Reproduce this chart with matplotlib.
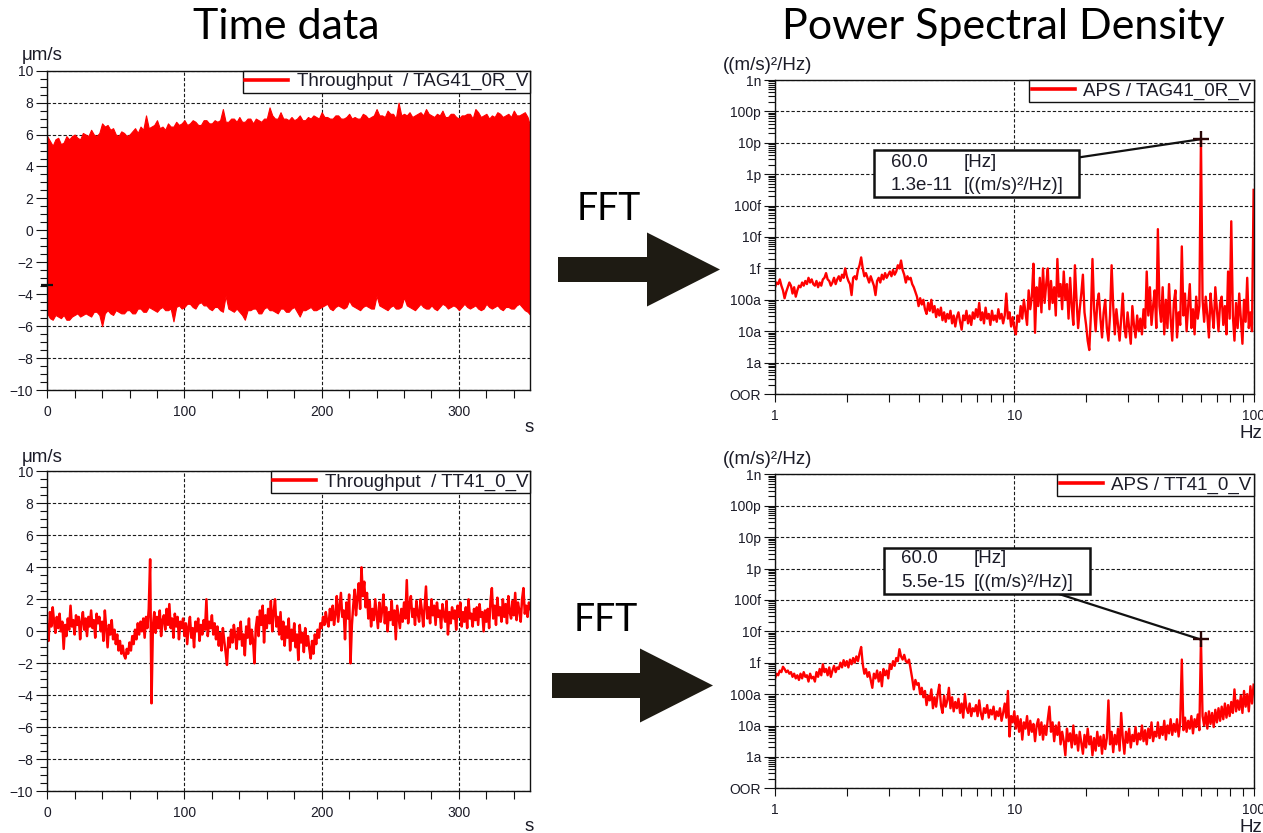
import numpy as np
import matplotlib
matplotlib.use('Agg')
import matplotlib.pyplot as plt
from matplotlib.ticker import FixedLocator, FixedFormatter, NullFormatter, MultipleLocator, LogLocator
from matplotlib.patches import Polygon, Rectangle
from matplotlib.lines import Line2D

# ---------------- data ----------------
# Time data, TAG41_0R_V: upper / lower envelope of the dense signal (um/s), every 2 s over 0..352 s
tag41_upper = [5.9, 5.6, 5.3, 5.7, 5.8, 5.4, 5.5, 5.9, 5.7, 5.9,
               6.0, 5.8, 5.7, 6.1, 6.0, 5.9, 6.3, 6.0, 5.9, 6.1,
               6.7, 6.5, 6.6, 6.3, 6.4, 6.0, 5.9, 6.2, 6.1, 5.9,
               6.0, 6.2, 6.4, 6.1, 6.5, 6.3, 7.2, 6.4, 6.5, 6.6,
               6.9, 6.4, 6.5, 6.3, 6.7, 6.5, 6.5, 6.8, 6.6, 6.7,
               6.9, 6.6, 6.7, 6.9, 6.8, 6.6, 6.6, 6.9, 6.9, 6.7,
               6.7, 6.9, 6.8, 6.9, 7.6, 6.8, 6.8, 7.0, 7.0, 6.8,
               7.1, 6.8, 6.8, 7.0, 7.0, 6.7, 7.0, 6.9, 6.8, 7.0,
               7.0, 7.7, 7.2, 7.0, 7.0, 7.4, 7.0, 7.0, 6.9, 7.1,
               6.9, 7.0, 7.2, 6.9, 6.9, 7.1, 7.0, 7.2, 7.1, 7.0,
               7.4, 7.1, 7.1, 7.0, 7.0, 7.2, 7.2, 7.0, 7.0, 7.1,
               7.3, 7.0, 7.1, 7.0, 7.0, 7.3, 7.2, 7.0, 7.1, 7.2,
               7.6, 7.2, 7.2, 7.1, 7.5, 7.3, 7.3, 7.0, 8.0, 7.2,
               7.3, 7.2, 7.4, 7.1, 7.2, 7.3, 7.4, 7.2, 7.6, 7.3,
               7.2, 7.1, 7.3, 7.2, 7.5, 7.1, 7.1, 7.3, 7.3, 7.1,
               7.0, 7.2, 7.2, 7.3, 7.3, 7.0, 7.6, 7.4, 7.1, 7.2,
               7.3, 7.0, 7.2, 7.1, 7.4, 7.3, 7.1, 7.2, 7.3, 7.1,
               7.5, 7.2, 7.2, 7.3, 7.4, 7.1, 6.5]
tag41_lower = [-5.2, -5.5, -5.6, -5.3, -5.4, -5.5, -5.3, -5.6, -5.6, -5.4,
               -5.3, -5.2, -5.4, -5.3, -5.2, -5.3, -5.4, -5.1, -5.1, -5.3,
               -6.0, -5.2, -5.0, -5.2, -5.3, -5.0, -5.1, -5.2, -5.2, -5.0,
               -5.0, -5.2, -5.2, -4.9, -4.9, -5.1, -5.1, -4.8, -4.9, -5.0,
               -5.1, -4.9, -4.8, -5.0, -5.0, -4.9, -5.7, -4.8, -4.7, -4.9,
               -4.8, -4.6, -4.6, -4.8, -4.9, -4.6, -4.5, -4.7, -4.7, -4.9,
               -5.0, -4.8, -4.8, -5.0, -5.1, -4.1, -4.9, -5.0, -5.1, -4.9,
               -5.1, -5.3, -5.6, -5.0, -5.0, -4.9, -4.9, -5.2, -5.2, -4.9,
               -4.8, -5.0, -5.0, -5.1, -5.2, -4.9, -4.9, -5.1, -5.1, -4.9,
               -4.8, -5.1, -5.4, -5.0, -5.0, -4.9, -4.8, -5.0, -5.0, -4.9,
               -4.8, -4.7, -4.6, -4.9, -5.0, -4.8, -4.7, -4.8, -4.9, -4.8,
               -4.4, -4.7, -4.8, -4.9, -5.0, -4.8, -4.7, -4.8, -4.9, -4.9,
               -4.1, -4.7, -4.8, -4.9, -5.0, -4.8, -4.7, -4.9, -4.9, -4.8,
               -4.2, -4.7, -4.8, -4.9, -5.0, -4.8, -4.6, -4.8, -4.9, -4.9,
               -4.7, -4.9, -5.0, -4.8, -4.6, -4.7, -4.9, -4.8, -4.7, -4.8,
               -5.0, -4.8, -4.6, -4.8, -4.9, -4.8, -4.7, -4.9, -5.0, -4.9,
               -4.6, -4.8, -4.9, -4.8, -4.7, -4.9, -5.0, -4.8, -4.8, -4.9,
               -4.9, -4.7, -4.6, -4.8, -5.0, -5.1, -5.3]
tag41_time_cursor = [0.0, -3.45]

# Time data, TT41_0_V (um/s), every 1 s over 0..352 s
tt41_signal = [0.4, -0.6, 1.2, 0.3, 1.5, 0.6, -0.1, 0.9, 0.2, 1.1,
               0.0, 0.6, -1.1, 0.4, -0.3, 0.8, 0.1, 1.6, 0.3, 0.7,
               -0.2, 1.0, 0.4, 0.9, -0.5, 0.6, 1.2, 0.1, 0.8, -0.3,
               0.9, 0.3, 1.3, 0.2, 0.7, -0.4, 1.1, 0.5, 0.9, 0.0,
               0.6, -0.6, 1.3, 0.2, -1.0, 0.4, -0.2, 0.7, -0.5, 0.1,
               -0.8, -0.2, -1.2, -0.6, -1.4, -0.9, -1.5, -1.7, -1.1, -1.4,
               -0.7, -1.2, -0.3, -0.8, 0.1, -0.5, 0.5, -0.2, 0.6, 0.0,
               0.8, -0.4, 0.9, 0.2, 1.4, 4.5, -4.5, 0.3, 1.2, -0.1,
               0.9, 0.2, 1.3, -0.3, 0.7, 1.0, 0.1, 1.4, 0.4, 1.7,
               0.2, 0.8, -0.4, 1.1, 0.3, 0.9, -0.5, 0.6, 0.2, 0.8,
               -0.3, 0.5, -0.8, 0.3, 0.9, -0.4, 0.2, -1.0, 0.6, 0.0,
               0.8, -0.6, 0.4, -0.2, 0.7, 0.1, 2.0, -0.3, 0.6, 0.2,
               1.0, -0.2, 0.5, -0.5, 0.3, -0.9, -0.1, -1.2, 0.2, -0.6,
               -1.3, -2.1, -0.4, -1.0, 0.1, -0.7, 0.4, -0.3, -1.1, 0.2,
               -0.5, 0.6, -0.9, -0.2, -1.5, 0.3, -0.4, 0.8, -0.8, 0.1,
               -0.6, -2.0, 0.2, 0.9, -0.3, 1.3, 0.4, 1.6, -0.7, 1.0,
               0.2, 1.4, 0.5, 1.9, 0.0, 1.2, 2.0, 0.3, 0.9, -0.2,
               1.2, -0.5, 0.6, -0.9, 0.3, -0.4, 0.8, -1.2, 0.1, -0.6,
               0.5, -1.0, -0.2, -1.8, 0.4, -0.7, -0.1, -1.3, 0.2, -0.9,
               -0.3, -1.1, -1.7, -0.6, -1.4, -0.2, -0.8, 0.1, -0.4, 0.5,
               0.2, 0.9, 0.4, 1.2, 0.6, 0.3, 1.4, 0.7, 1.6, 0.4,
               1.1, 2.2, 0.6, 1.5, 2.4, 0.9, 1.3, -0.5, 1.8, 0.8,
               2.3, -2.0, 0.4, 1.6, 2.6, 1.0, 2.1, 3.0, 1.4, 4.0,
               2.2, 3.1, 1.5, 2.4, 0.8, 1.9, 0.3, 1.4, 0.7, 2.0,
               1.1, 0.2, 1.8, 0.6, 1.3, 2.3, 0.5, 1.5, 0.0, 1.2,
               0.7, 1.9, 0.4, 1.3, -0.5, 1.6, 0.9, 0.2, 1.4, 0.6,
               1.8, 0.8, 3.2, 0.5, 1.7, 2.2, 0.9, 1.4, 0.4, 1.9,
               1.1, 0.6, 2.0, 1.3, 0.3, 1.6, 2.8, 0.8, 1.5, 0.5,
               2.0, 1.0, 1.6, 0.4, 1.8, 0.9, 1.3, 0.2, 1.7, 1.0,
               0.6, 1.9, -0.2, 1.2, 0.5, 1.5, 0.8, 1.3, 0.1, 1.6,
               0.9, 1.8, 0.3, 1.2, 0.6, 1.5, 0.2, 2.0, 0.8, 1.1,
               0.3, 1.4, 0.7, 1.5, 0.4, 1.7, 0.9, 1.2, 0.0, 1.3,
               0.6, 1.4, 0.2, 1.9, 2.7, 0.8, 1.6, 0.4, 2.1, 1.0,
               1.5, 0.6, 2.0, 0.9, 1.7, 0.5, 2.2, 1.2, 0.8, 1.9,
               1.0, 2.4, 0.7, 1.8, 1.3, 0.6, 2.0, 2.7, 1.1, 1.6,
               0.9, 1.8, 1.4]

time_xlim = [0, 352]
time_ylim = [-10, 10]
time_xticks = [0, 100, 200, 300]
time_yticks = [-10, -8, -6, -4, -2, 0, 2, 4, 6, 8, 10]

# Power spectral density: log10 PSD ((m/s)^2/Hz) sampled on a log-spaced
# frequency grid from 1 Hz to 100 Hz (301 samples, 150 per decade)
psd_fmin, psd_fmax = 1.0, 100.0
tag41_log_psd = [
    -15.6, -15.45, -15.5, -15.35, -15.55, -15.7, -15.95, -15.75, -15.6, -15.45,
    -15.55, -15.8, -15.6, -15.9, -15.7, -15.55, -15.6, -15.45, -15.55, -15.4,
    -15.5, -15.3, -15.45, -15.35, -15.5, -15.55, -15.4, -15.6, -15.45, -15.55,
    -15.35, -15.3, -15.15, -15.35, -15.4, -15.55, -15.45, -15.3, -15.5, -15.35,
    -15.25, -15.4, -15.2, -15.3, -15.0, -15.25, -15.4, -15.5, -15.85, -15.3,
    -15.25, -15.35, -15.05, -14.9, -14.65, -15.0, -15.25, -15.15, -15.3, -15.45,
    -15.25, -15.4, -15.55, -15.85, -15.4, -15.3, -15.45, -15.2, -15.35, -15.15,
    -15.3, -15.2, -15.1, -15.25, -15.05, -15.2, -15.1, -14.9, -15.0, -14.75,
    -15.05, -15.2, -15.45, -15.25, -15.35, -15.3, -15.5, -15.6, -15.75, -15.9,
    -16.2, -15.95, -16.15, -16.0, -16.3, -16.45, -16.1, -16.35, -16.0, -16.4,
    -16.2, -16.55, -16.3, -16.5, -16.25, -16.65, -16.4, -16.7, -16.45, -16.6,
    -16.35, -16.75, -16.5, -16.85, -16.55, -16.4, -16.7, -16.95, -16.5, -16.65,
    -16.35, -16.75, -16.5, -16.8, -16.4, -16.6, -16.3, -16.55, -16.1, -16.65,
    -16.4, -16.75, -16.25, -16.6, -16.45, -16.8, -16.35, -16.65, -16.5, -16.7,
    -16.3, -16.6, -16.45, -16.75, -16.5, -15.8, -16.6, -16.4, -16.85, -16.55,
    -16.9, -17.1, -16.5, -16.7, -16.2, -16.6, -16.0, -16.4, -16.8, -15.7,
    -16.3, -15.9, -14.85, -17.05, -15.6, -16.2, -15.3, -16.4, -15.0, -16.1,
    -15.5, -15.0, -16.3, -15.4, -16.1, -15.6, -16.5, -14.7, -15.9, -15.5,
    -16.3, -15.1, -16.0, -15.5, -16.6, -15.3, -16.2, -16.8, -14.9, -16.0,
    -16.9, -16.3, -15.8, -15.2, -16.4, -16.8, -17.3, -17.6, -16.5, -14.7,
    -16.3, -17.0, -16.1, -15.8, -16.6, -17.2, -16.4, -16.0, -16.9, -17.3,
    -16.5, -14.9, -16.2, -17.1, -16.3, -16.8, -17.3, -16.6, -15.8, -16.9,
    -17.2, -16.4, -16.9, -17.4, -16.2, -16.8, -17.2, -16.5, -17.0, -16.6,
    -17.1, -16.3, -16.9, -15.1, -16.5, -15.6, -16.8, -16.2, -15.7, -16.9,
    -13.75, -16.2, -16.7, -15.6, -17.1, -16.0, -16.9, -15.5, -16.6, -17.3,
    -16.1, -15.7, -17.2, -16.4, -16.8, -14.3, -16.5, -15.8, -17.0, -16.2,
    -15.5, -16.9, -16.3, -17.1, -15.9, -16.6, -16.2, -10.886, -16.0, -16.7,
    -15.9, -16.5, -17.2, -15.8, -16.4, -16.9, -15.6, -16.3, -17.0, -16.1,
    -15.9, -16.8, -16.2, -17.1, -15.1, -16.6, -13.5, -16.5, -17.3, -16.1,
    -16.9, -15.8, -16.6, -17.4, -16.0, -16.7, -15.3, -16.9, -16.4, -17.0,
    -12.5]
tt41_log_psd = [
    -15.5, -15.35, -15.4, -15.25, -15.3, -15.13, -15.2, -15.3, -15.25, -15.35,
    -15.3, -15.45, -15.35, -15.5, -15.4, -15.55, -15.35, -15.5, -15.3, -15.45,
    -15.4, -15.6, -15.35, -15.5, -15.45, -15.6, -15.3, -15.45, -15.2, -15.4,
    -15.05, -15.3, -15.2, -15.4, -15.15, -15.45, -15.25, -15.1, -15.3, -15.15,
    -15.2, -15.0, -15.15, -14.92, -15.1, -14.95, -15.15, -14.9, -15.05, -14.85,
    -15.0, -14.8, -14.95, -14.7, -14.5, -15.05, -15.35, -15.2, -15.45, -15.3,
    -15.55, -15.8, -15.35, -15.5, -15.25, -15.6, -15.3, -15.75, -15.2, -15.4,
    -15.25, -15.5, -15.05, -15.2, -14.95, -15.1, -14.85, -14.95, -14.57, -14.8,
    -14.9, -14.75, -14.95, -15.0, -14.9, -15.2, -15.5, -15.85, -15.55, -15.7,
    -15.65, -16.0, -15.8, -16.1, -15.9, -16.35, -16.05, -16.2, -15.85, -16.45,
    -16.1, -16.4, -16.0, -15.7, -16.35, -16.6, -16.05, -16.4, -16.2, -15.8,
    -16.45, -16.1, -16.55, -16.25, -16.45, -16.15, -16.6, -16.3, -16.75, -16.0,
    -16.45, -16.6, -16.3, -16.7, -16.45, -16.55, -16.35, -16.7, -16.2, -16.6,
    -16.8, -16.45, -16.6, -16.35, -16.75, -16.5, -16.65, -16.4, -16.8, -16.55,
    -16.7, -16.45, -16.85, -16.6, -16.3, -16.75, -15.9, -17.35, -16.7, -16.9,
    -16.55, -17.1, -16.7, -17.2, -16.8, -17.45, -16.9, -17.1, -16.7, -17.3,
    -16.85, -17.2, -16.95, -17.5, -17.0, -16.8, -17.3, -16.9, -17.45, -17.0,
    -17.3, -16.8, -16.4, -17.2, -16.9, -17.5, -17.0, -17.3, -16.9, -17.6,
    -17.2, -17.5, -17.95, -17.1, -17.5, -17.25, -17.7, -17.0, -17.6, -17.3,
    -17.8, -17.2, -17.55, -17.9, -17.3, -17.7, -17.1, -17.6, -17.35, -17.95,
    -17.4, -17.8, -17.2, -17.65, -17.35, -17.9, -17.3, -17.75, -17.4, -16.2,
    -17.6, -17.2, -17.85, -17.3, -17.6, -17.1, -17.8, -16.6, -17.4, -17.9,
    -17.2, -17.55, -17.1, -17.7, -17.3, -17.5, -17.05, -17.6, -17.25, -17.45,
    -17.0, -17.5, -17.15, -17.6, -17.1, -17.4, -16.9, -17.5, -17.2, -17.35,
    -16.9, -17.4, -17.05, -17.3, -16.85, -17.45, -17.0, -17.25, -16.8, -17.3,
    -16.95, -17.2, -16.8, -17.35, -16.9, -14.9, -17.15, -16.75, -17.2, -16.85,
    -17.1, -16.7, -17.25, -16.8, -17.05, -16.65, -17.15, -14.26, -16.7, -17.0,
    -16.6, -17.1, -16.55, -16.95, -16.6, -17.05, -16.5, -16.9, -16.45, -16.85,
    -16.4, -16.8, -16.3, -16.75, -16.35, -16.7, -16.25, -16.6, -15.85, -16.55,
    -16.2, -16.5, -16.05, -16.6, -15.9, -16.4, -16.0, -16.55, -15.75, -16.3,
    -15.7]

psd_xlim = [1, 100]
psd_ylim = [1e-19, 1e-9]
psd_xticks = [1, 10, 100]
psd_xticklabels = ['1', '10', '100']
psd_yticks = [1e-19, 1e-18, 1e-17, 1e-16, 1e-15, 1e-14, 1e-13, 1e-12, 1e-11, 1e-10, 1e-9]
psd_yticklabels = ['OOR', '1a', '10a', '100a', '1f', '10f', '100f', '1p', '10p', '100p', '1n']

cursor_freq = 60.0
tag41_cursor_psd = 1.3e-11
tt41_cursor_psd = 5.5e-15
tag41_cursor_text = '1.3e-11'
tt41_cursor_text = '5.5e-15'

# ---------------- styling ----------------
RED = '#ff0000'
ARROW = '#1e1b13'
GRID = '#1a1a1a'
TXT = '#1c1c28'
UI_FONT = ['Liberation Sans', 'DejaVu Sans']
TITLE_FONT = ['Lato', 'DejaVu Sans']

W, H = 1263, 833
fig = plt.figure(figsize=(W / 100, H / 100), dpi=100)
fig.patch.set_facecolor('white')


def rect(l, t, r, b):
    return [l / W, 1 - b / H, (r - l) / W, (b - t) / H]


def fxy(x, y):
    return x / W, 1 - y / H


ax_tl = fig.add_axes(rect(47.2, 70.7, 530.3, 390.0))
ax_bl = fig.add_axes(rect(47.2, 471.3, 530.3, 791.3))
ax_tr = fig.add_axes(rect(775.0, 80.0, 1253.6, 394.0))
ax_br = fig.add_axes(rect(775.0, 474.3, 1253.6, 788.3))

grid_kw = dict(ls=(0, (3, 1.8)), lw=0.8, color=GRID)


def common_style(ax):
    for s in ax.spines.values():
        s.set_linewidth(1.0)
        s.set_color('#111111')
    ax.set_axisbelow(True)
    for lab in ax.get_xticklabels() + ax.get_yticklabels():
        lab.set_family(UI_FONT)
    ax.tick_params(axis='both', which='both', direction='out', width=0.8,
                   color='#111111', labelsize=10, labelcolor=TXT)


def style_time(ax):
    ax.set_xlim(time_xlim)
    ax.set_ylim(time_ylim)
    ax.xaxis.set_major_locator(FixedLocator(time_xticks))
    ax.xaxis.set_minor_locator(MultipleLocator(20))
    ax.yaxis.set_major_locator(FixedLocator(time_yticks))
    ax.yaxis.set_minor_locator(MultipleLocator(0.5))
    common_style(ax)
    ax.tick_params(axis='y', which='major', length=8, pad=2)
    ax.tick_params(axis='y', which='minor', length=5)
    ax.tick_params(axis='x', which='both', length=5.5, pad=5)
    ax.grid(True, which='major', **grid_kw)


def style_psd(ax):
    ax.set_xscale('log')
    ax.set_yscale('log')
    ax.set_xlim(psd_xlim)
    ax.set_ylim(psd_ylim)
    ax.xaxis.set_major_locator(FixedLocator(psd_xticks))
    ax.xaxis.set_major_formatter(FixedFormatter(psd_xticklabels))
    ax.xaxis.set_minor_locator(LogLocator(base=10, subs=np.arange(2, 10), numticks=100))
    ax.xaxis.set_minor_formatter(NullFormatter())
    ax.yaxis.set_major_locator(FixedLocator(psd_yticks))
    ax.yaxis.set_major_formatter(FixedFormatter(psd_yticklabels))
    ax.yaxis.set_minor_locator(LogLocator(base=10, subs=np.arange(2, 10), numticks=100))
    ax.yaxis.set_minor_formatter(NullFormatter())
    common_style(ax)
    ax.tick_params(axis='y', which='major', length=8, pad=2)
    ax.tick_params(axis='y', which='minor', length=5)
    ax.tick_params(axis='x', which='both', length=5.5, pad=5)
    ax.grid(True, which='major', **grid_kw)


def add_legend(ax, label):
    h = Line2D([], [], color=RED, lw=2.6)
    leg = ax.legend([h], [label], loc='upper right', bbox_to_anchor=(1, 1),
                    borderaxespad=0, fancybox=False, framealpha=1, edgecolor='#111111',
                    handlelength=2.3, handletextpad=0.45, borderpad=0.12,
                    prop={'family': UI_FONT, 'size': 13.5})
    leg.get_frame().set_linewidth(1.0)
    for t in leg.get_texts():
        t.set_color(TXT)
    leg.set_zorder(6)


# ---- top-left: time data TAG41 ----
t_up = np.linspace(time_xlim[0], time_xlim[1], len(tag41_upper))
t_lo = np.linspace(time_xlim[0], time_xlim[1], len(tag41_lower))
style_time(ax_tl)
ax_tl.fill_between(t_up, np.interp(t_up, t_lo, tag41_lower), tag41_upper,
                   color=RED, lw=0.8, edgecolor=RED, zorder=2)
ax_tl.plot(tag41_time_cursor[0], tag41_time_cursor[1], marker='_', ms=9, mew=1.6,
           color='#111111', clip_on=False, zorder=4)
add_legend(ax_tl, 'Throughput  / TAG41_0R_V')

# ---- bottom-left: time data TT41 ----
t_tt = np.linspace(time_xlim[0], time_xlim[1], len(tt41_signal))
style_time(ax_bl)
ax_bl.plot(t_tt, tt41_signal, color=RED, lw=1.8, zorder=2)
add_legend(ax_bl, 'Throughput  / TT41_0_V')


# ---- spectra ----
def draw_psd(ax, logpsd, label, cursor_psd, cursor_text, box, anchor, tx):
    style_psd(ax)
    freq = np.geomspace(psd_fmin, psd_fmax, len(logpsd))
    ax.plot(freq, 10.0 ** np.asarray(logpsd), color=RED, lw=1.7, zorder=2)
    add_legend(ax, label)
    l, b, r, t = box
    ax.annotate('', xy=(cursor_freq, cursor_psd), xycoords='data',
                xytext=anchor, textcoords='axes fraction',
                arrowprops=dict(arrowstyle='-', color='#111111', lw=1.6,
                                shrinkA=0, shrinkB=0), zorder=4)
    ax.add_patch(Rectangle((l, b), r - l, t - b, transform=ax.transAxes,
                           fc='white', ec='#111111', lw=1.8, zorder=5))
    x1, x2, y1, y2 = tx
    kw = dict(transform=ax.transAxes, va='center', ha='left', fontsize=13.5,
              family=UI_FONT, color=TXT, zorder=6)
    ax.text(x1, y1, '%.1f' % cursor_freq, **kw)
    ax.text(x2, y1, '[Hz]', **kw)
    ax.text(x1, y2, cursor_text, **kw)
    ax.text(x2, y2, '[((m/s)\u00b2/Hz)]', **kw)
    ax.plot(cursor_freq, cursor_psd, marker='+', ms=11, mew=1.7, color='#2a0505', zorder=4)


draw_psd(ax_tr, tag41_log_psd, 'APS / TAG41_0R_V', tag41_cursor_psd,
         tag41_cursor_text, (0.2064, 0.6283, 0.6362, 0.7771), (0.6362, 0.7538),
         (0.2424, 0.3947, 0.7366, 0.6634))
draw_psd(ax_br, tt41_log_psd, 'APS / TT41_0_V', tt41_cursor_psd,
         tt41_cursor_text, (0.2273, 0.6188, 0.6588, 0.7662), (0.5934, 0.6188),
         (0.2633, 0.4158, 0.7325, 0.6548))

# ---- unit labels ----
unit_kw = dict(fontsize=13.5, family=UI_FONT, color=TXT)
fig.text(*fxy(21.3, 56.0), '\u03bcm/s', ha='left', va='center', **unit_kw)
fig.text(*fxy(21.3, 457.0), '\u03bcm/s', ha='left', va='center', **unit_kw)
fig.text(*fxy(529.5, 427.5), 's', ha='center', va='center', **unit_kw)
fig.text(*fxy(529.5, 826.7), 's', ha='center', va='center', **unit_kw)
fig.text(*fxy(723.3, 65.0), '((m/s)\u00b2/Hz)', ha='left', va='center', **unit_kw)
fig.text(*fxy(723.3, 459.3), '((m/s)\u00b2/Hz)', ha='left', va='center', **unit_kw)
fig.text(*fxy(1251.0, 433.0), 'Hz', ha='center', va='center', **unit_kw)
fig.text(*fxy(1251.0, 827.0), 'Hz', ha='center', va='center', **unit_kw)

# ---- titles and FFT arrows ----
fig.text(*fxy(286.0, 39.0), 'Time data', ha='center', va='baseline',
         fontsize=31, family=TITLE_FONT, color='black')
fig.text(*fxy(1003.5, 39.0), 'Power Spectral Density', ha='center', va='baseline',
         fontsize=31, family=TITLE_FONT, color='black')
fig.text(*fxy(609.0, 220.0), 'FFT', ha='center', va='baseline',
         fontsize=27, family=TITLE_FONT, color='black')
fig.text(*fxy(606.0, 631.0), 'FFT', ha='center', va='baseline',
         fontsize=27, family=TITLE_FONT, color='black')


def arrow(x0, xh, xt, yc, hs, hh):
    pts = [(x0, yc - hs), (xh, yc - hs), (xh, yc - hh), (xt, yc),
           (xh, yc + hh), (xh, yc + hs), (x0, yc + hs)]
    pts = [fxy(x, y) for x, y in pts]
    fig.add_artist(Polygon(pts, closed=True, transform=fig.transFigure,
                           fc=ARROW, ec='none'))


arrow(558, 647, 720, 269.5, 12.5, 37)
arrow(552, 640, 713, 685.5, 12.5, 37)

fig.savefig('out.png', dpi=100, facecolor='white')
